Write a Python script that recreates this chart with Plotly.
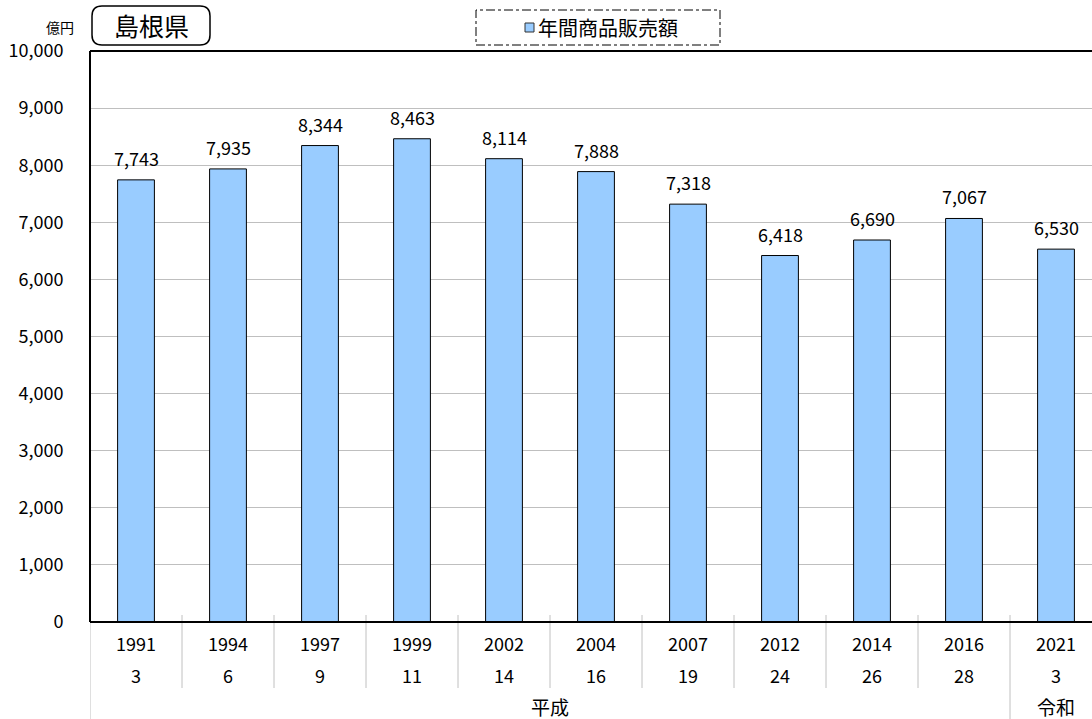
import plotly.graph_objects as go

years = ["1991", "1994", "1997", "1999", "2002", "2004", "2007", "2012", "2014", "2016", "2021"]
era_years = ["3", "6", "9", "11", "14", "16", "19", "24", "26", "28", "3"]
eras = ["平成", "令和"]
era_spans = [(0, 9), (10, 10)]
values = [7743, 7935, 8344, 8463, 8114, 7888, 7318, 6418, 6690, 7067, 6530]
series_name = "年間商品販売額"
title_text = "島根県"
unit_text = "億円"
yticks = list(range(0, 10001, 1000))

FONT = "Noto Sans CJK JP"
BAR_COLOR = "#99CCFF"
NUM_SIZE = 18
n = len(years)
xs = list(range(n))

# plot area in pixels
L, T, R, B = 90, 51, 1092, 622
W, H = R - L, B - T


def px(xp):
    return (xp - L) / W


def py(yp):
    return (B - yp) / H


fig = go.Figure()
fig.add_trace(go.Bar(
    x=xs, y=values, name=series_name, width=0.4,
    marker=dict(color=BAR_COLOR, line=dict(color="#000000", width=1)),
    showlegend=False, hoverinfo="skip",
))

ann = []
for i, v in zip(xs, values):
    ann.append(dict(x=i, y=v, xref="x", yref="y", text=f"{v:,}", showarrow=False,
                    xanchor="center", yanchor="middle",
                    yshift=22, font=dict(family=FONT, size=NUM_SIZE, color="#000")))
for i in xs:
    ann.append(dict(x=i, y=py(643), xref="x", yref="paper", text=years[i], showarrow=False,
                    xanchor="center", yanchor="middle",
                    font=dict(family=FONT, size=NUM_SIZE, color="#000")))
    ann.append(dict(x=i, y=py(675), xref="x", yref="paper", text=era_years[i], showarrow=False,
                    xanchor="center", yanchor="middle",
                    font=dict(family=FONT, size=NUM_SIZE, color="#000")))
for name, (a, b) in zip(eras, era_spans):
    ann.append(dict(x=(a + b) / 2, y=py(706), xref="x", yref="paper", text=name, showarrow=False,
                    xanchor="center", yanchor="middle",
                    font=dict(family=FONT, size=19, color="#000")))
ann.append(dict(x=px(60), y=py(27), xref="paper", yref="paper", text=unit_text, showarrow=False,
                xanchor="center", yanchor="middle",
                font=dict(family=FONT, size=14, color="#000")))
ann.append(dict(x=px(151), y=py(25), xref="paper", yref="paper", text=title_text, showarrow=False,
                xanchor="center", yanchor="middle",
                font=dict(family=FONT, size=25, color="#000")))
ann.append(dict(x=px(536), y=py(27), xref="paper", yref="paper", text=series_name, showarrow=False,
                xanchor="left", yanchor="middle", font=dict(family=FONT, size=20, color="#000")))

shapes = []
# category separators
starts = [a for a, b in era_spans]
for k in range(n + 1):
    xpos = k - 0.5
    major = k in starts
    shapes.append(dict(type="line", xref="x", yref="paper", x0=xpos, x1=xpos,
                       y0=py(615), y1=(py(719) if major else py(688)),
                       line=dict(color="#c0c0c0", width=1)))
# plot borders
shapes.append(dict(type="line", xref="paper", yref="paper", x0=0, x1=1, y0=1, y1=1,
                   line=dict(color="#000", width=2)))
shapes.append(dict(type="line", xref="paper", yref="paper", x0=0, x1=0, y0=0, y1=1,
                   line=dict(color="#000", width=2)))
shapes.append(dict(type="line", xref="paper", yref="paper", x0=0, x1=1, y0=0, y1=0,
                   line=dict(color="#000", width=2)))
# title rounded box
x0, x1, y0, y1, r = px(92), px(210), py(45), py(6), 10
rx, ry = r / W, r / H
path = (f"M {x0+rx},{y1} L {x1-rx},{y1} Q {x1},{y1} {x1},{y1-ry} L {x1},{y0+ry} Q {x1},{y0} {x1-rx},{y0} "
        f"L {x0+rx},{y0} Q {x0},{y0} {x0},{y0+ry} L {x0},{y1-ry} Q {x0},{y1} {x0+rx},{y1} Z")
shapes.append(dict(type="path", xref="paper", yref="paper", path=path,
                   line=dict(color="#000", width=1.5)))
# legend dash-dot box and swatch
shapes.append(dict(type="rect", xref="paper", yref="paper", x0=px(476), x1=px(720), y0=py(45), y1=py(10),
                   line=dict(color="#000", width=1, dash="dashdot")))
shapes.append(dict(type="rect", xref="paper", yref="paper", x0=px(525), x1=px(534), y0=py(32), y1=py(23),
                   fillcolor=BAR_COLOR, line=dict(color="#333", width=1)))

fig.update_layout(
    width=1092, height=719,
    margin=dict(l=L, r=1092 - R, t=T, b=719 - B, autoexpand=False),
    paper_bgcolor="#ffffff", plot_bgcolor="#ffffff",
    xaxis=dict(range=[-0.5, n - 0.5 - (n * 92 - W) / 92], showticklabels=False, showgrid=False,
               zeroline=False, showline=False, ticks="", automargin=False),
    yaxis=dict(range=[0, 10000], tickvals=yticks, ticktext=[f"{t:,}" for t in yticks],
               showgrid=True, gridcolor="#bfbfbf", gridwidth=1, zeroline=False, showline=False,
               ticks="outside", ticklen=22, tickcolor="rgba(0,0,0,0)", automargin=False,
               tickfont=dict(family=FONT, size=NUM_SIZE, color="#000")),
    annotations=ann, shapes=shapes,
    showlegend=False,
)

fig.write_html("out.html", config={"displayModeBar": False},
               post_script="document.body.style.margin='0';document.body.style.overflow='hidden';")
